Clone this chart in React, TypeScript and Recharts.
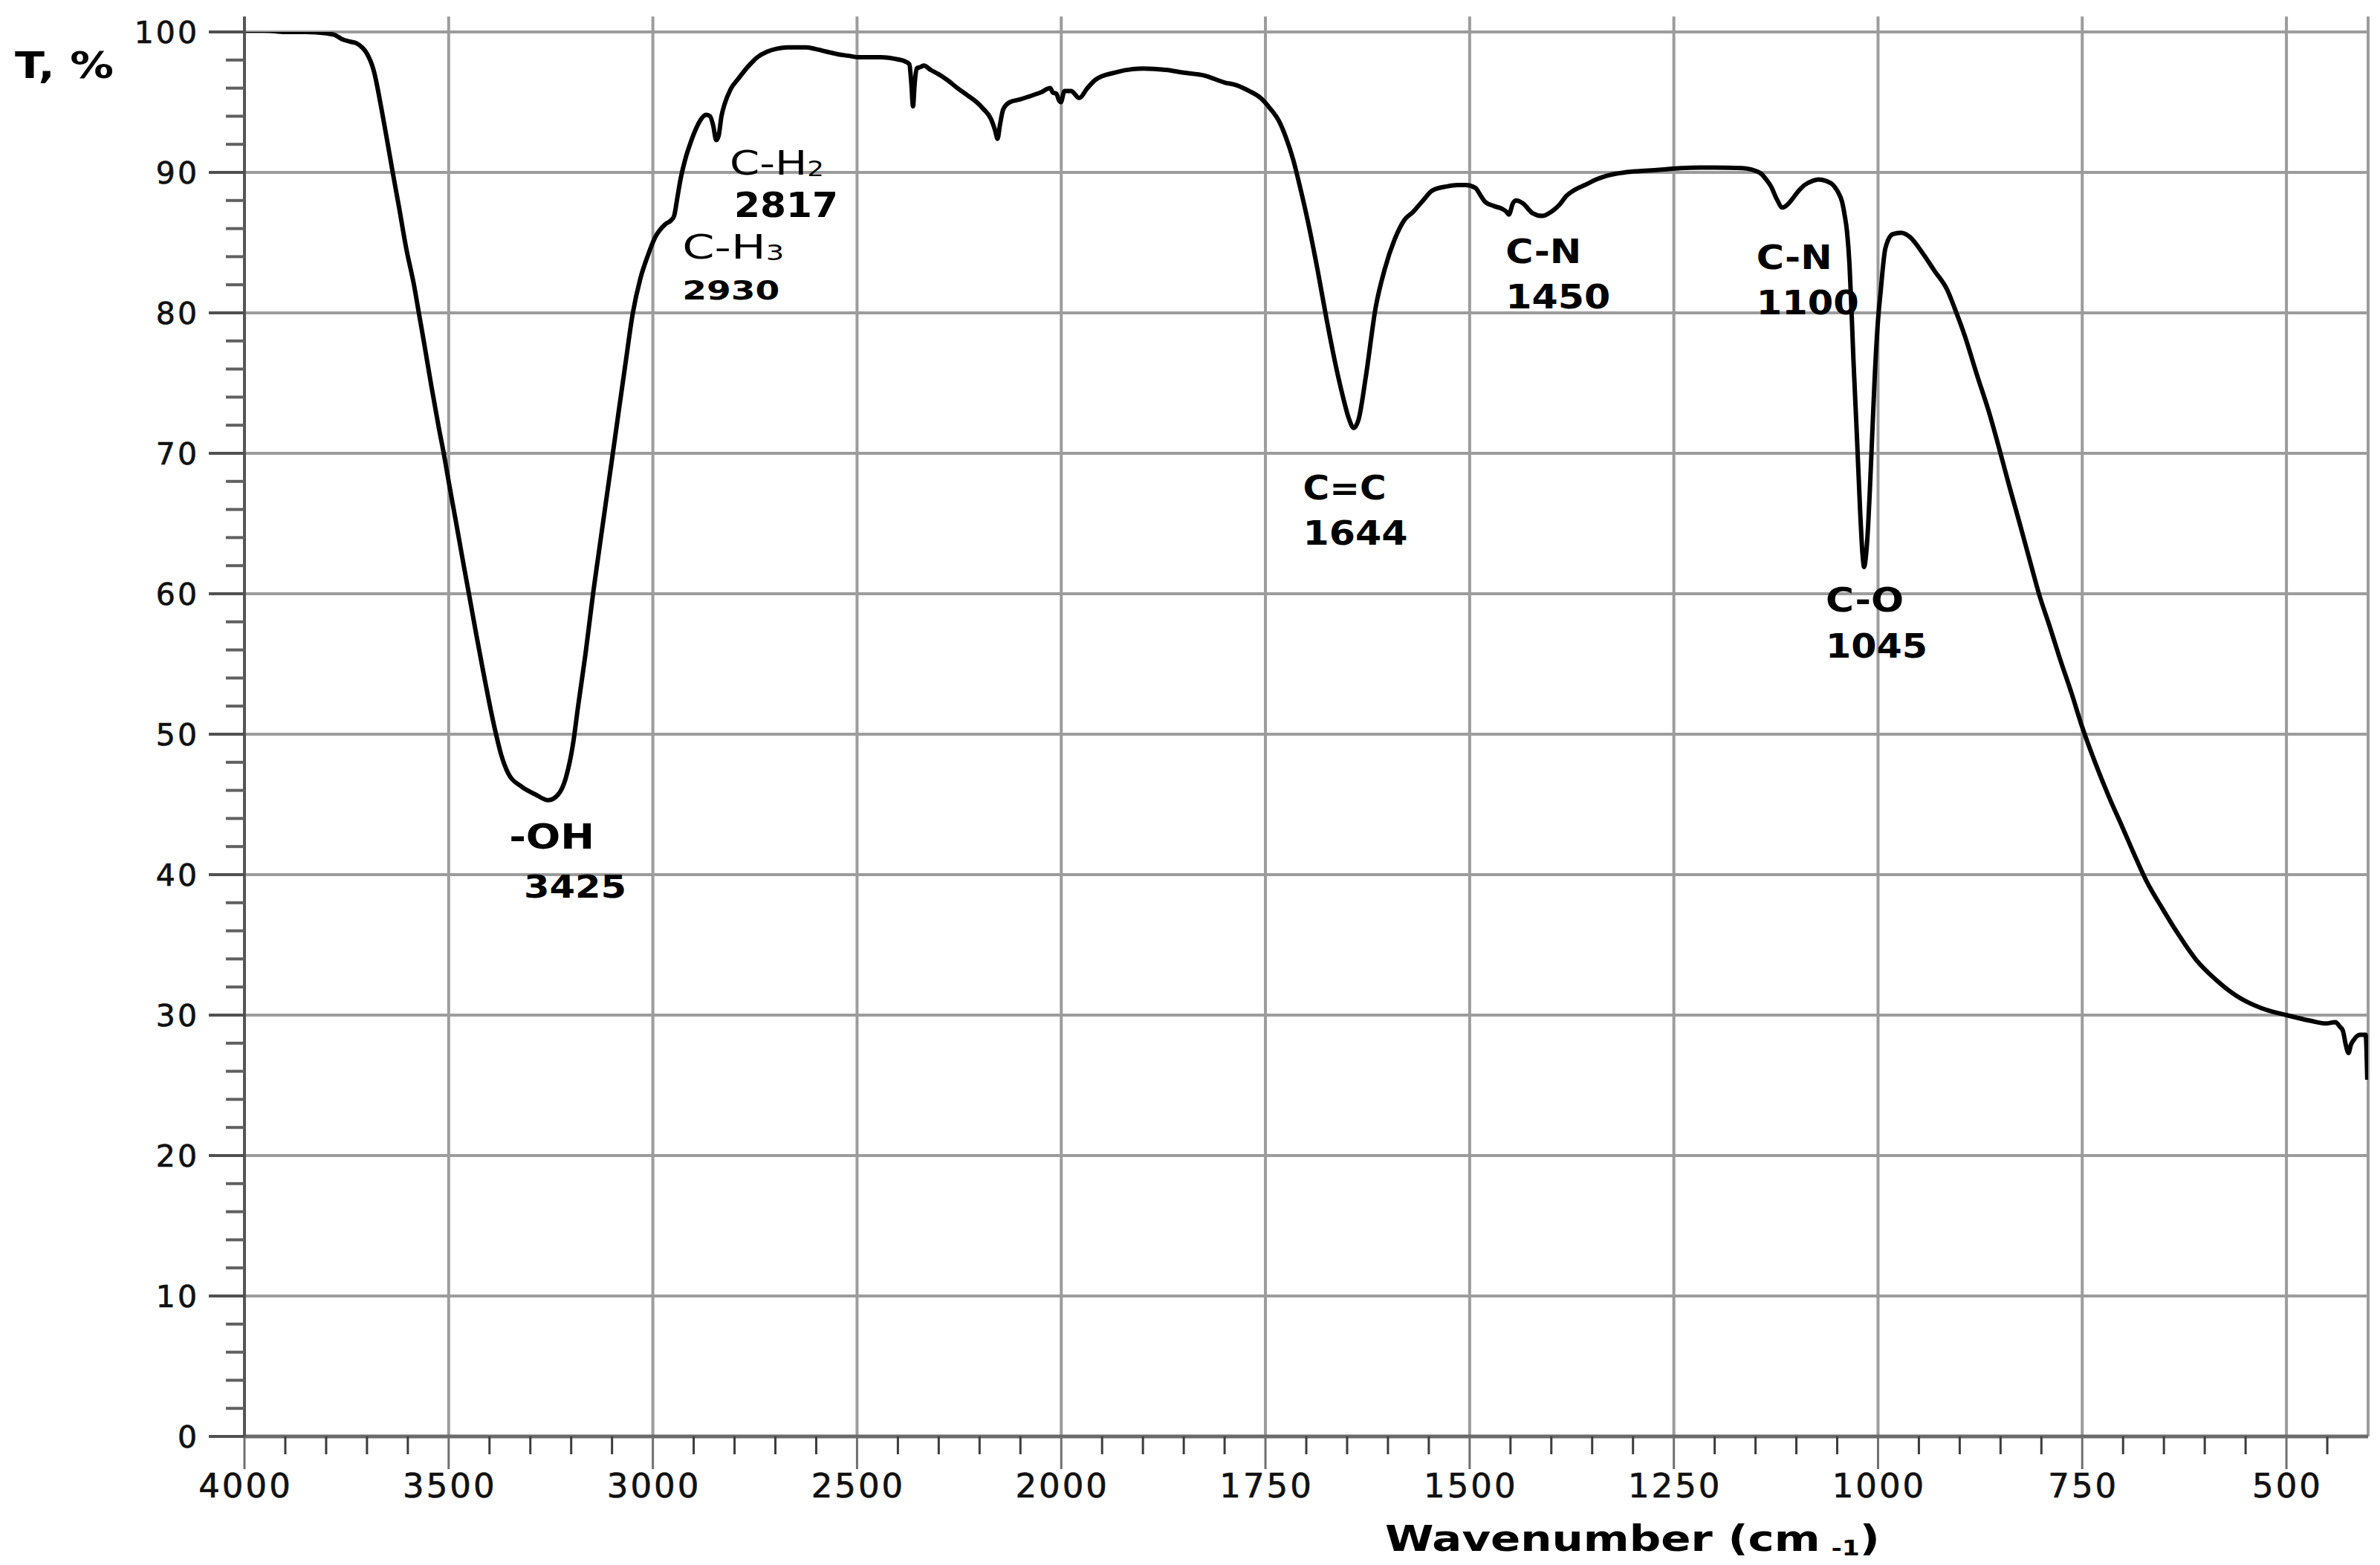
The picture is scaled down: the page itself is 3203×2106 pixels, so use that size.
import React from "react";
import {
  LineChart,
  Line,
  XAxis,
  YAxis,
  CartesianGrid,
  ReferenceDot,
  ReferenceLine,
} from "recharts";

// ---------- DATA ----------
const wavenumbers = [
  4000, 3950, 3900, 3850, 3800, 3780, 3762, 3740, 3726, 3712, 3701, 3683, 3665, 3649, 3637, 3622, 3604, 3585, 3573,
  3561, 3543, 3524, 3512, 3500, 3482, 3463, 3451, 3433, 3415, 3396, 3384, 3372, 3354, 3323, 3287, 3256, 3232, 3213,
  3195, 3183, 3165, 3146, 3134, 3116, 3098, 3085, 3067, 3049, 3031, 3012, 2994, 2970, 2955, 2948, 2940, 2933, 2920,
  2909, 2896, 2884, 2870, 2860, 2852, 2845, 2839, 2832, 2825, 2810, 2790, 2765, 2744, 2720, 2697, 2670, 2650, 2625,
  2604, 2575, 2545, 2520, 2499, 2470, 2441, 2410, 2382, 2372, 2367, 2363, 2359, 2354, 2345, 2336, 2320, 2301, 2280,
  2254, 2230, 2207, 2190, 2172, 2162, 2156, 2150, 2142, 2126, 2100, 2079, 2050, 2027, 2021, 2012, 2005, 2001, 1996,
  1988, 1978, 1968, 1958, 1935, 1900, 1872, 1850, 1825, 1800, 1785, 1770, 1756, 1745, 1733, 1725, 1716, 1707, 1698,
  1686, 1675, 1663, 1655, 1648, 1642, 1636, 1627, 1615, 1604, 1592, 1580, 1569, 1557, 1546, 1528, 1515, 1505, 1493,
  1486, 1481, 1470, 1460, 1455, 1452, 1447, 1443, 1435, 1423, 1411, 1400, 1390, 1382, 1370, 1359, 1345, 1330, 1310,
  1289, 1265, 1242, 1200, 1166, 1155, 1143, 1137, 1131, 1124, 1117, 1111, 1105, 1097, 1090, 1080, 1073, 1064, 1055,
  1049, 1044, 1041, 1038, 1035, 1033, 1030, 1026, 1022, 1019, 1017, 1015, 1012, 1010, 1007, 1004, 1000, 997, 991,
  982, 972, 961, 946, 931, 915, 906, 894, 879, 864, 851, 839, 827, 812, 803, 790, 778, 763, 750, 733, 717, 701, 683,
  671, 652, 634, 610, 586, 562, 531, 500, 471, 452, 440, 435, 431, 427, 424, 421, 418, 410, 403, 401,
];

const transmittance = [
  100.1, 100.1, 100.0, 100.0, 99.9, 99.8, 99.5, 99.3, 99.2, 98.9, 98.5, 97.2, 94.6, 92.0, 90.0, 87.6, 84.6, 82.0, 80.0,
  78.0, 74.9, 71.8, 70.0, 68.0, 65.1, 62.0, 60.1, 57.2, 54.4, 51.6, 50.0, 48.6, 47.2, 46.3, 45.7, 45.3, 45.7, 46.9,
  49.4, 52.0, 55.7, 60.1, 62.6, 66.3, 70.0, 72.7, 76.4, 80.0, 82.4, 84.1, 85.4, 86.3, 86.6, 86.9, 88.2, 89.4, 91.0,
  92.0, 93.0, 93.7, 94.1, 94.0, 93.3, 92.3, 92.6, 94.0, 94.8, 95.9, 96.7, 97.6, 98.2, 98.6, 98.8, 98.9, 98.9, 98.9,
  98.8, 98.6, 98.4, 98.3, 98.2, 98.2, 98.2, 98.1, 97.9, 97.7, 96.3, 94.7, 96.3, 97.4, 97.5, 97.6, 97.3, 97.0, 96.6,
  96.0, 95.5, 95.0, 94.5, 93.8, 93.0, 92.4, 93.4, 94.5, 95.0, 95.2, 95.4, 95.7, 96.0, 95.7, 95.6, 95.1, 95.0, 95.8,
  95.8, 95.3, 96.0, 96.6, 97.1, 97.4, 97.3, 97.1, 96.9, 96.4, 96.2, 95.8, 95.3, 94.6, 93.6, 92.5, 90.9, 88.8, 86.5,
  83.0, 79.5, 76.0, 74.0, 72.5, 71.8, 72.4, 75.5, 80.4, 83.1, 85.2, 86.6, 87.2, 88.0, 88.7, 89.0, 89.1, 89.1, 88.9,
  88.3, 87.9, 87.6, 87.4, 87.2, 87.0, 87.8, 88.0, 87.8, 87.1, 86.9, 87.2, 87.7, 88.3, 88.8, 89.1, 89.5, 89.8, 90.0,
  90.1, 90.2, 90.3, 90.35, 90.3, 90.2, 89.9, 89.5, 89.0, 88.1, 87.5, 87.7, 88.1, 88.7, 89.1, 89.4, 89.5, 89.4, 89.1,
  88.6, 87.9, 87.0, 85.8, 83.5, 80.9, 76.5, 71.4, 66.0, 62.8, 61.9, 62.6, 65.0, 67.4, 71.5, 75.5, 79.5, 81.4, 84.6,
  85.6, 85.7, 85.4, 84.3, 83.0, 81.6, 80.3, 78.4, 75.6, 72.9, 70.2, 67.6, 65.1, 61.9, 60.0, 57.7, 55.5, 52.9, 50.5,
  47.8, 45.5, 43.4, 41.0, 39.5, 37.6, 35.9, 33.9, 32.5, 31.4, 30.5, 30.0, 29.6, 29.4, 29.5, 29.2, 28.9, 27.8, 27.3,
  27.9, 28.2, 28.6, 28.6, 25.4,
];

const xMajorLabels = [4000, 3500, 3000, 2500, 2000, 1750, 1500, 1250, 1000, 750, 500];
const yMajorLabels = [0, 10, 20, 30, 40, 50, 60, 70, 80, 90, 100];
const axisStart = 4000;
const axisEnd = 400;

const annotationText = ["-OH", "3425", "C-H", "2817", "C-H", "2930", "C=C", "1644", "C-N", "1450", "C-N", "1100", "C-O", "1045"];
const annotationSub = ["", "", "2", "", "3", "", "", "", "", "", "", "", "", ""];
const annotationWavenumber = [3352, 3316, 2812, 2801, 2928, 2928, 1704, 1704, 1456, 1456, 1149, 1149, 1064, 1064];
const annotationT = [41.85, 38.36, 89.84, 86.83, 83.86, 80.95, 66.72, 63.49, 83.54, 80.32, 83.12, 79.89, 58.73, 55.45];

// ---------- styles for annotations (kept separate from data) ----------
const annSize = [46, 43, 45, 46, 45, 36, 45, 45, 45, 45, 45, 45, 45, 45];
const annWeight = [700, 700, 400, 700, 400, 700, 700, 700, 700, 700, 700, 700, 700, 700];
const annWidth = [115, 138, 127, 140, 137, 131, 112, 141, 102, 141, 102, 138, 105, 137];

// Split wavenumber scale (2x expansion below 2000 cm-1)
const toPos = (w: number) => (w >= 2000 ? (4000 - w) / 2 : 1000 + (2000 - w));
const toWave = (p: number) => (p <= 1000 ? 4000 - 2 * p : 2000 - (p - 1000));

const chartData = wavenumbers.map((w, i) => ({ p: toPos(w), t: transmittance[i] }));
const xMajorPos = xMajorLabels.map(toPos);
const xEndPos = toPos(axisEnd);
const xStartPos = toPos(axisStart);
const xTicks: number[] = [];
for (let p = xStartPos; p < xEndPos; p += 50) xTicks.push(p);
const yTicks: number[] = [];
for (let v = 0; v <= 100; v += 2) yTicks.push(v);

const FONT = "'DejaVu Sans', Verdana, sans-serif";

function XTick(props: any) {
  const { x, y, payload } = props;
  const p = payload.value;
  const major = xMajorPos.includes(p);
  return (
    <g>
      <line x1={x} x2={x} y1={y} y2={y + (major ? 44 : 24)} stroke={major ? "#707070" : "#3c3c3c"} strokeWidth={3} />
      {major && (
        <text
          x={x + 1.5}
          y={y + 82}
          textAnchor="middle"
          fontFamily={FONT}
          fontSize={45}
          letterSpacing={3}
          fill="#111"
          stroke="#111"
          strokeWidth={0.7}
        >
          {toWave(p)}
        </text>
      )}
    </g>
  );
}

function YTick(props: any) {
  const { x, y, payload } = props;
  const v = payload.value;
  const major = v % 10 === 0;
  return (
    <g>
      <line x1={x - (major ? 48 : 25)} x2={x} y1={y} y2={y} stroke={major ? "#505050" : "#606060"} strokeWidth={4} />
      {major && (
        <text
          x={x - 61}
          y={y}
          dy="0.36em"
          textAnchor="end"
          fontFamily={FONT}
          fontSize={41}
          letterSpacing={3}
          fill="#111"
          stroke="#111"
          strokeWidth={0.7}
        >
          {v}
        </text>
      )}
    </g>
  );
}

function makeAnnotation(i: number) {
  return (props: any) => {
    const { cx, cy } = props;
    return (
      <text
        x={cx}
        y={cy}
        fontFamily={FONT}
        fontSize={annSize[i]}
        fontWeight={annWeight[i]}
        fill="#000"
        textLength={annWidth[i]}
        lengthAdjust="spacingAndGlyphs"
      >
        {annotationText[i]}
        {annotationSub[i] && (
          <tspan fontSize={annSize[i] * 0.62} dy={2}>
            {annotationSub[i]}
          </tspan>
        )}
      </text>
    );
  };
}

const xTitle = (lp: any) => {
  const vb = lp.viewBox || { x: 329, y: 1933 };
  return (
    <text x={vb.x + 1535} y={vb.y + 154} fontFamily={FONT} fontSize={48} fontWeight={700} fill="#000" textLength={666} lengthAdjust="spacingAndGlyphs">
      Wavenumber (cm
      <tspan fontSize={28} dx={12} dy={6}>-1</tspan>
      <tspan dy={-6}>)</tspan>
    </text>
  );
};

const yTitle = (lp: any) => {
  const vb = lp.viewBox || { x: 0, y: 43 };
  return (
    <text x={vb.x + 20} y={vb.y + 62} fontFamily={FONT} fontSize={50} fontWeight={700} fill="#000" textLength={133} lengthAdjust="spacingAndGlyphs">
      T, %
    </text>
  );
};

export default function App() {
  const gridV = [...xMajorPos.filter((p) => p > xStartPos), xEndPos];
  return (
    <div style={{ width: 3203, height: 2106, background: "#fff" }}>
      <style>{"body{margin:0;background:#fff}"}</style>
      <LineChart width={3203} height={2106} data={chartData} margin={{ top: 43, right: 16, left: 0, bottom: 0 }}>
        <CartesianGrid
          stroke="#9c9c9c"
          strokeWidth={4}
          horizontalValues={yMajorLabels.filter((v) => v > 0)}
          verticalValues={gridV}
        />
        {[xStartPos, ...gridV].map((p) => (
          <ReferenceLine
            key={"ext" + p}
            segment={[
              { x: p, y: 100 },
              { x: p, y: 101.1 },
            ]}
            ifOverflow="visible"
            stroke={p === xStartPos ? "#555" : "#9c9c9c"}
            strokeWidth={4}
          />
        ))}
        <XAxis
          dataKey="p"
          type="number"
          domain={[xStartPos, xEndPos]}
          ticks={xTicks}
          interval={0}
          tick={(props: any) => <XTick {...props} />}
          tickLine={false}
          tickSize={0}
          tickMargin={0}
          height={173}
          axisLine={{ stroke: "#6a6a6a", strokeWidth: 5 }}
          allowDataOverflow
          label={{ content: xTitle }}
        />
        <YAxis
          type="number"
          domain={[0, 100]}
          ticks={yTicks}
          interval={0}
          width={329}
          tick={(props: any) => <YTick {...props} />}
          tickLine={false}
          tickSize={0}
          tickMargin={0}
          axisLine={{ stroke: "#555", strokeWidth: 4 }}
          allowDataOverflow
          label={{ content: yTitle }}
        />
        <Line
          type="monotone"
          dataKey="t"
          stroke="#000"
          strokeWidth={6}
          dot={false}
          activeDot={false}
          isAnimationActive={false}
        />
        {annotationText.map((_, i) => (
          <ReferenceDot
            key={"ann" + i}
            x={toPos(annotationWavenumber[i])}
            y={annotationT[i]}
            r={1}
            ifOverflow="visible"
            shape={makeAnnotation(i)}
          />
        ))}
      </LineChart>
    </div>
  );
}
